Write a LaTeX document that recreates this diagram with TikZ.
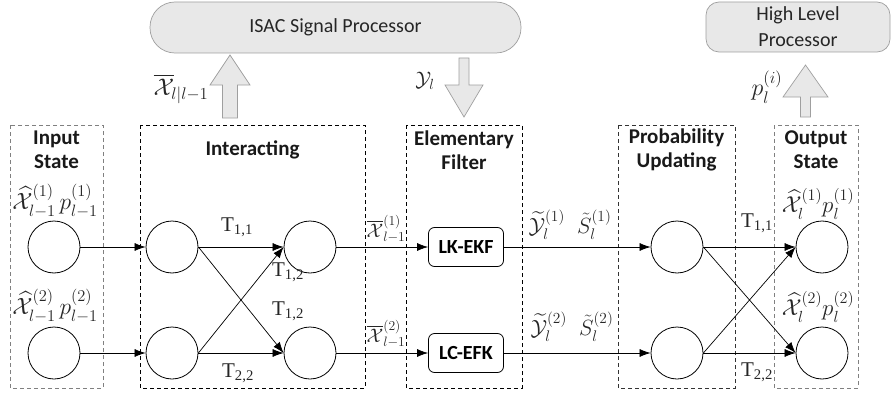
\RequirePackage{fix-cm}
\documentclass[tikz,border=0pt]{standalone}
\usepackage{fontspec}
\usepackage{amsmath,amssymb}
\newfontfamily\calibri{Carlito}
\newfontfamily\timesf{Liberation Serif}
\usetikzlibrary{arrows.meta}
\begin{document}
\begin{tikzpicture}[x=1pt,y=-1pt,
  stage/.style={draw=#1, dash pattern=on 4pt off 3pt, line width=0.7pt},
  stage/.default=black,
  title/.style={font=\calibri\bfseries\fontsize{21}{24}\selectfont, align=center, text=black!90, inner sep=0},
  st/.style={circle, draw, minimum size=52pt, inner sep=0pt, line width=0.8pt},
  filt/.style={draw, rounded corners=6pt, minimum width=75pt, minimum height=39pt, inner sep=0pt,
    font=\calibri\bfseries\fontsize{20}{24}\selectfont, line width=0.8pt},
  conn/.style={-{Latex[length=11pt,width=8pt]}, line width=0.7pt},
  blk/.style={fill=gray!18, draw=gray!75, line width=0.7pt},
  proc/.style={fill=gray!18, draw=gray!75, line width=0.7pt, align=center,
    font=\calibri\fontsize{20}{26}\selectfont, text=black!85},
  ml/.style={inner sep=0pt, text=black!85},
  tl/.style={inner sep=0pt, font=\timesf\fontsize{21}{24}\selectfont, text=black!85}
]
\useasboundingbox (0,0) rectangle (894,396);

% processors
\node[proc, rounded corners=25pt, minimum width=371pt, minimum height=51pt] (isac) at (335.5,27.5) {ISAC Signal Processor};
\node[proc, rounded corners=13pt, minimum width=184pt, minimum height=50pt, inner sep=0pt] (hlp) at (798,27) {High Level\\Processor};

% block arrows
\draw[blk] (222.5,118) -- (222.5,85) -- (210,85) -- (230,55) -- (250,85) -- (237.5,85) -- (237.5,118) -- cycle;
\draw[blk] (459,58) -- (459,85) -- (445,85) -- (464,117) -- (483,85) -- (469,85) -- (469,58) -- cycle;
\draw[blk] (800.5,117) -- (800.5,97) -- (783,97) -- (805.5,65) -- (828,97) -- (810.5,97) -- (810.5,117) -- cycle;

\node[ml, font=\fontsize{24}{28}\selectfont] (xpred) at (181,89) {$\overline{\mathcal{X}}_{\!l|l-1}$};
\node[ml, font=\fontsize{21}{26}\selectfont] (yl) at (425,81) {$\mathcal{Y}_l$};
\node[ml, font=\fontsize{24}{26}\selectfont] (pli) at (767,87) {$p_l^{(i)}$};

% stage boxes
\draw[stage=gray] (10,125) rectangle (103,388);
\draw[stage] (140,125) rectangle (365,388);
\draw[stage] (406,125) rectangle (522,388);
\draw[stage=black!80] (618,125) rectangle (735,388);
\draw[stage=gray] (774,125) rectangle (858,388);

\node[title] (tin) at (56.5,150) {Input\\State};
\node[title] (tia) at (252.5,150) {Interacting};
\node[title] (tef) at (464,150) {Elementary\\Filter};
\node[title] (tpu) at (676.5,150) {Probability\\Updating};
\node[title] (tout) at (816,150) {Output\\State};

% state circles
\node[st] (in1) at (54,247) {};
\node[st] (in2) at (54,353) {};
\node[st] (ia1) at (172,247) {};
\node[st] (ia2) at (172,353) {};
\node[st] (ib1) at (310,247) {};
\node[st] (ib2) at (310,353) {};
\node[filt] (ekf) at (466,247) {LK-EKF};
\node[filt] (efk) at (466,353) {LC-EFK};
\node[st] (pu1) at (677,247) {};
\node[st] (pu2) at (677,353) {};
\node[st] (out1) at (822,247) {};
\node[st] (out2) at (822,353) {};

% connectors
\draw[conn] (in1) -- (ia1);
\draw[conn] (in2) -- (ia2);
\draw[conn] (ia1) -- (ib1);
\draw[conn] (ia2) -- (ib2);
\draw[conn] (ia1.east) -- (ib2.west);
\draw[conn] (ia2.east) -- (ib1.west);
\draw[conn] (ib1) -- (ekf);
\draw[conn] (ib2) -- (efk);
\draw[conn] (ekf) -- (pu1);
\draw[conn] (efk) -- (pu2);
\draw[conn] (pu1) -- (out1);
\draw[conn] (pu2) -- (out2);
\draw[conn] (pu1.east) -- (out2.west);
\draw[conn] (pu2.east) -- (out1.west);

% labels
\node[ml, font=\fontsize{23.5}{26}\selectfont] (lx1) at (55,201) {$\widehat{\mathcal{X}}^{(1)}_{l-1}\,p^{(1)}_{l-1}$};
\node[ml, font=\fontsize{23.5}{26}\selectfont] (lx2) at (55,306) {$\widehat{\mathcal{X}}^{(2)}_{l-1}\,p^{(2)}_{l-1}$};
\node[tl] (t11) at (237,227) {T\textsubscript{1,1}};
\node[tl] (t12a) at (288,272) {T\textsubscript{1,2}};
\node[tl] (t12b) at (288,311) {T\textsubscript{1,2}};
\node[tl] (t22) at (238,373) {T\textsubscript{2,2}};
\node[ml, font=\fontsize{19.5}{22}\selectfont] (xb1) at (386,229) {$\overline{\mathcal{X}}^{(1)}_{l-1}$};
\node[ml, font=\fontsize{19.5}{22}\selectfont] (xb2) at (386,334) {$\overline{\mathcal{X}}^{(2)}_{l-1}$};
\node[ml, font=\fontsize{22}{26}\selectfont] (ys1) at (570,225) {$\widetilde{\mathcal{Y}}^{(1)}_l\;\;\tilde{S}^{(1)}_l$};
\node[ml, font=\fontsize{22}{26}\selectfont] (ys2) at (572,327) {$\widetilde{\mathcal{Y}}^{(2)}_l\;\;\tilde{S}^{(2)}_l$};
\node[tl] (t11b) at (757,223) {T\textsubscript{1,1}};
\node[tl] (t22b) at (757,372) {T\textsubscript{2,2}};
\node[ml, font=\fontsize{23}{26}\selectfont] (lo1) at (818,204) {$\widehat{\mathcal{X}}^{(1)}_l p^{(1)}_l$};
\node[ml, font=\fontsize{23}{26}\selectfont] (lo2) at (818,307) {$\widehat{\mathcal{X}}^{(2)}_l p^{(2)}_l$};
\end{tikzpicture}
\end{document}
